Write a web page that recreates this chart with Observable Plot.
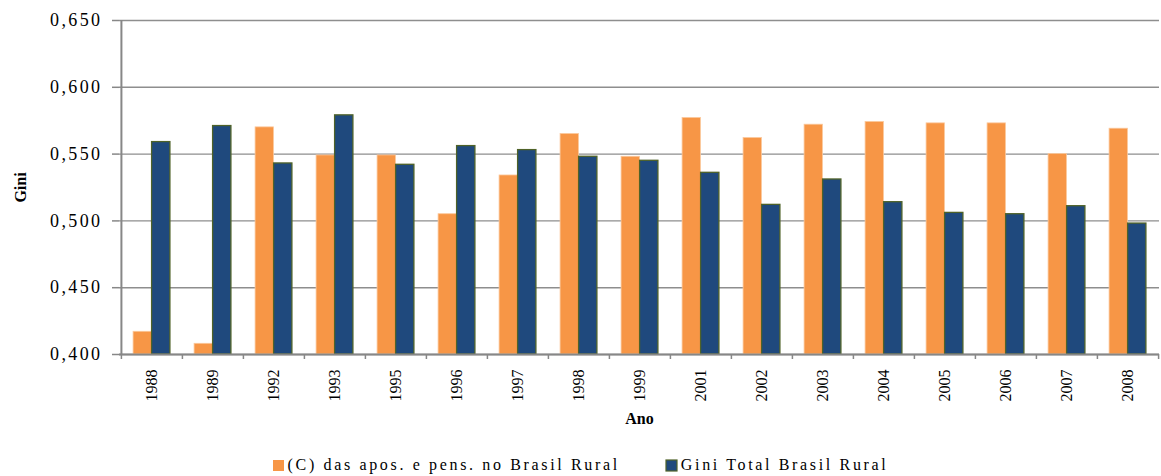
<!DOCTYPE html>
<html>
<head>
<meta charset="utf-8">
<script src="https://cdn.jsdelivr.net/npm/d3@7"></script>
<script src="https://cdn.jsdelivr.net/npm/@observablehq/plot@0.6"></script>
<style>
  html, body { margin: 0; padding: 0; background: #fff; }
  body { width: 1161px; height: 476px; overflow: hidden; font-family: "Liberation Serif", "Times New Roman", serif; }
  #chart svg { display: block; }
  #chart svg text { font-family: "Liberation Serif", "Times New Roman", serif !important; fill: #000; }
  g[aria-label="y-axis tick label"] text { letter-spacing: 2.4px; }
  g[aria-label="x-title"] text { letter-spacing: 2.5px; }
  #legend { height: 34px; display: flex; justify-content: center; align-items: center; }
  #legend div { justify-content: center !important; align-items: center; margin: 0 !important; min-height: 0 !important; }
  #legend, #legend *, .lg-swatches, .lg-swatch { font-family: "Liberation Serif", "Times New Roman", serif !important; font-size: 16px !important; color: #000 !important; }
  .lg-swatch { letter-spacing: 2.65px; margin-right: 46px !important; }
  .lg-swatch:last-of-type { margin-right: 0 !important; }
  .lg-swatch svg { margin-right: 4px !important; }
  .lg-swatch:nth-of-type(2) rect { stroke: #4f6228; stroke-width: 1.2px; }
</style>
</head>
<body>
<div id="chart"></div>
<div id="legend"></div>
<script>
// ---- data ----
const years = ["1988","1989","1992","1993","1995","1996","1997","1998","1999","2001","2002","2003","2004","2005","2006","2007","2008"];
const pensoes = [0.417,0.408,0.570,0.549,0.549,0.505,0.534,0.565,0.548,0.577,0.562,0.572,0.574,0.573,0.573,0.550,0.569];
const giniTotal = [0.559,0.571,0.543,0.579,0.542,0.556,0.553,0.548,0.545,0.536,0.512,0.531,0.514,0.506,0.505,0.511,0.498];
const seriesNames = ["(C) das apos. e pens. no Brasil Rural", "Gini Total Brasil Rural"];
const yTicks = [0.400, 0.450, 0.500, 0.550, 0.600, 0.650];
const colors = ["#F79646", "#1F497D"];
const xTitle = ["Ano"];
const yTitle = ["Gini"];

// ---- layout ----
const W = 1161, H = 448;
const mL = 119, mR = 2, mT = 20, mB = 94;
const bw = (W - mL - mR) / years.length;
const barW = 18.5;
const base = yTicks[0];
const axisGray = "#878787";
const fmt = d => d.toFixed(3).replace(".", ",");

const rows = years.map((y, i) => ({year: y, c: pensoes[i], g: giniTotal[i]}));

const chart = Plot.plot({
  width: W, height: H,
  marginTop: mT, marginLeft: mL, marginRight: mR, marginBottom: mB,
  style: {fontFamily: '"Liberation Serif", "Times New Roman", serif', fontSize: "15px", color: "#000", background: "#fff", overflow: "visible"},
  x: {domain: years, padding: 0},
  y: {domain: [yTicks[0], yTicks[yTicks.length - 1]]},
  marks: [
    Plot.gridY(yTicks, {stroke: "#8e8e8e", strokeOpacity: 1, strokeWidth: 1.4}),
    Plot.barY(rows, {x: "year", y1: () => base, y2: "c", fill: colors[0], stroke: "#fbc79a", strokeWidth: 0.8,
      insetLeft: bw / 2 - barW, insetRight: bw / 2}),
    Plot.barY(rows, {x: "year", y1: () => base, y2: "g", fill: colors[1], stroke: "#4f6228", strokeWidth: 1.3,
      insetLeft: bw / 2, insetRight: bw / 2 - barW}),
    Plot.ruleY([base], {stroke: axisGray, strokeWidth: 2}),
    Plot.ruleX(years.slice(0, 1), {x: d => d, dx: -bw / 2, stroke: axisGray, strokeWidth: 2}),
    Plot.ruleX(years, {x: d => d, dx: -bw / 2, y1: () => base, y2: () => base, insetBottom: -5, stroke: axisGray, strokeWidth: 1.5}),
    Plot.ruleX(years.slice(-1), {x: d => d, dx: bw / 2, y1: () => base, y2: () => base, insetBottom: -5, stroke: axisGray, strokeWidth: 1.5}),
    Plot.axisY(yTicks, {tickFormat: fmt, tickSize: 7, tickPadding: 10, stroke: axisGray, strokeWidth: 1.5, fontSize: 18, label: null}),
    Plot.axisX({tickSize: 0, tickRotate: -90, tickPadding: 15, fontSize: 16, label: null}),
    Plot.text(xTitle, {frameAnchor: "bottom", dy: 69, fontWeight: "bold", fontSize: 16, ariaLabel: "x-title"}),
    Plot.text(yTitle, {frameAnchor: "left", dx: -99, rotate: -90, textAnchor: "middle", fontWeight: "bold", fontSize: 16})
  ]
});
document.getElementById("chart").appendChild(chart);

const legend = Plot.legend({
  color: {domain: seriesNames, range: colors},
  legend: "swatches",
  swatchSize: 11,
  className: "lg"
});
document.getElementById("legend").appendChild(legend);
</script>
</body>
</html>
